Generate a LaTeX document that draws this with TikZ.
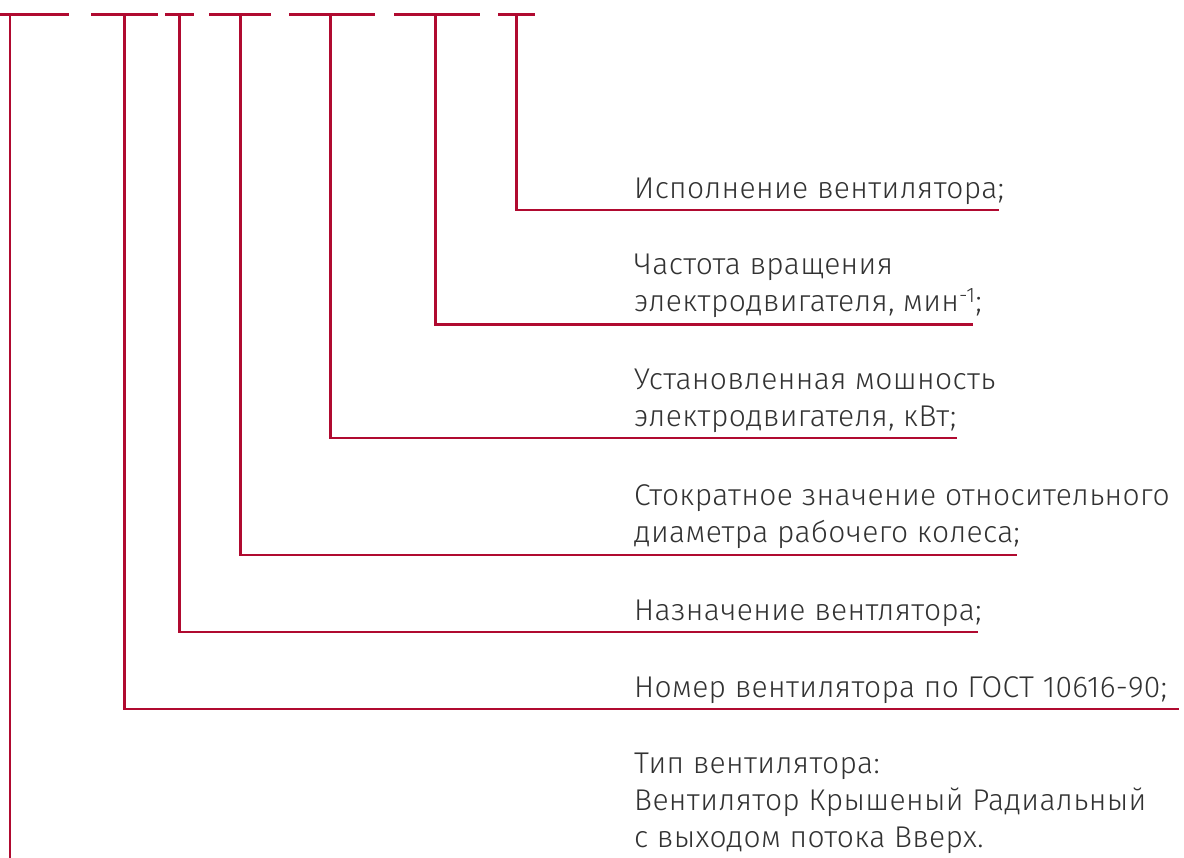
\documentclass[tikz,border=0pt]{standalone}
\usepackage{fontspec}
\setmainfont{Fira Sans}[UprightFont={* Light},LetterSpace=1.2]
\definecolor{leadred}{RGB}{176,10,48}
\definecolor{txtgray}{RGB}{50,50,50}
\tikzset{
  lead/.style={draw=leadred,line width=2.9pt,line cap=butt},
  lbl/.style={anchor=base west,inner sep=0pt,text=txtgray,font=\fontsize{30}{37}\selectfont},
}
\begin{document}
\begin{tikzpicture}[x=1pt,y=-1pt]
\useasboundingbox (0,0) rectangle (1184,858);
% top bars
\coordinate (b1l) at (0,14.5);   \coordinate (b1r) at (69,14.5);
\coordinate (b2l) at (91,14.5);  \coordinate (b2r) at (158,14.5);
\coordinate (b3l) at (165,14.5); \coordinate (b3r) at (194,14.5);
\coordinate (b4l) at (209,14.5); \coordinate (b4r) at (271,14.5);
\coordinate (b5l) at (289,14.5); \coordinate (b5r) at (375,14.5);
\coordinate (b6l) at (394,14.5); \coordinate (b6r) at (480,14.5);
\coordinate (b7l) at (498,14.5); \coordinate (b7r) at (535,14.5);
\foreach \i in {1,...,7} {\draw[lead] (b\i l) -- (b\i r);}
% stems
\coordinate (t1) at (10,14.5);
\coordinate (t2) at (124.5,14.5);
\coordinate (t3) at (179.5,14.5);
\coordinate (t4) at (240.5,14.5);
\coordinate (t5) at (330.5,14.5);
\coordinate (t6) at (435.5,14.5);
\coordinate (t7) at (516.5,14.5);
% labels
\node[lbl] (l7) at (634,199) {Исполнение вентилятора;};
\node[lbl] (l6a) at (634,275) {Частота вращения};
\node[lbl] (l6b) at (634,312) {электродвигателя, мин\textsuperscript{-1};};
\node[lbl] (l5a) at (634,390) {Установленная мошность};
\node[lbl] (l5b) at (634,427) {электродвигателя, кВт;};
\node[lbl] (l4a) at (634,505) {Стократное значение относительного};
\node[lbl] (l4b) at (634,542) {диаметра рабочего колеса;};
\node[lbl] (l3) at (634,620) {Назначение вентлятора;};
\node[lbl] (l2) at (634,697) {Номер вентилятора по ГОСТ 10616-90;};
\node[lbl] (l1a) at (634,773) {Тип вентилятора:};
\node[lbl] (l1b) at (634,810) {Вентилятор Крышеный Радиальный};
\node[lbl] (l1c) at (634,847) {с выходом потока Вверх.};
% line ends
\coordinate (e7) at (999,210);
\coordinate (e6) at (973,324.5);
\coordinate (e5) at (957,438);
\coordinate (e4) at (1017,555);
\coordinate (e3) at (978,632);
\coordinate (e2) at (1179,709);
\coordinate (e1) at (10,858);
\foreach \i in {2,...,7} {\draw[lead] (t\i) |- (e\i);}
\draw[lead] (t1) -- (e1);
\end{tikzpicture}
\end{document}
